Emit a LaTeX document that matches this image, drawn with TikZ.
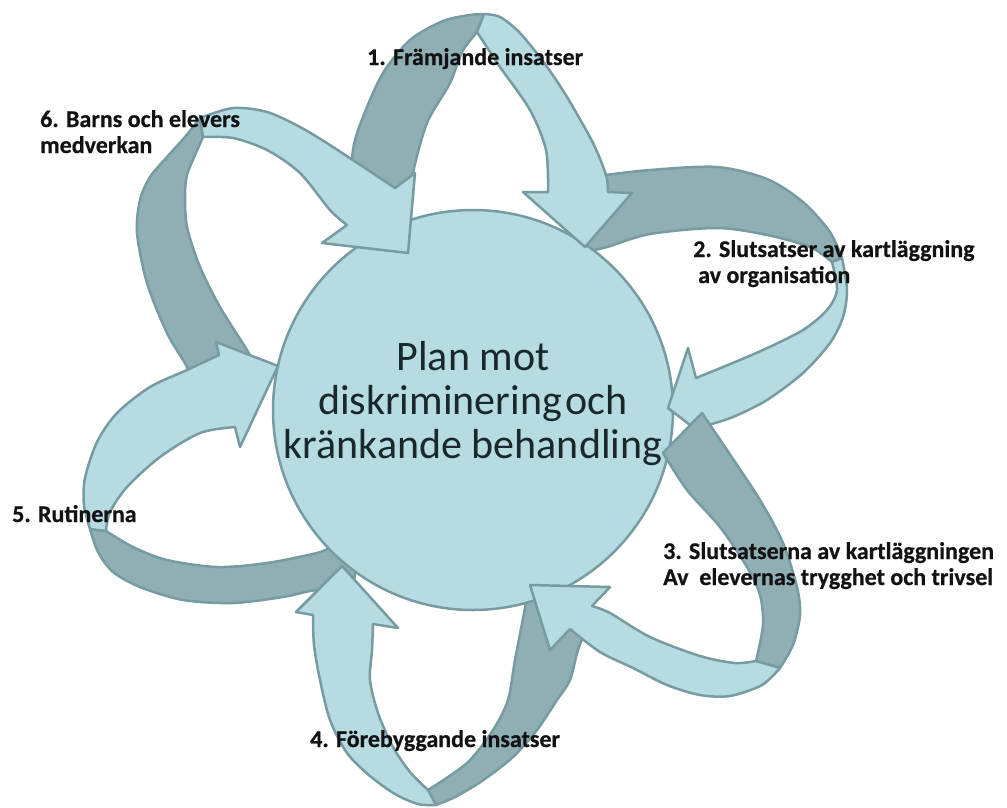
\documentclass[tikz,border=0pt]{standalone}
\usepackage{fontspec}
\setmainfont{Carlito}
\newfontfamily\labelfont{Carlito}[BoldFeatures={FakeBold=0.6}]
\definecolor{bandLight}{RGB}{182,220,226}
\definecolor{bandDark}{RGB}{143,175,180}
\definecolor{bandEdge}{RGB}{118,155,161}
\definecolor{hubText}{RGB}{25,40,45}
\definecolor{labelText}{RGB}{18,18,18}

\begin{document}
\begin{tikzpicture}[x=1pt, y=-1pt,
  band/.style={draw=bandEdge, line width=2.5pt, line join=round},
  back/.style={band, fill=bandDark},
  front/.style={band, fill=bandLight},
  hub/.style={circle, draw=bandEdge, line width=2.5pt, fill=bandLight,
              minimum size=400pt, inner sep=0pt},
  hubtext/.style={font=\fontsize{42}{44}\selectfont, text=hubText, align=center},
  steplabel/.style={font=\labelfont\bfseries\fontsize{24}{26}\selectfont, text=labelText,
                    align=left, anchor=base west, inner sep=0pt},
]
\useasboundingbox (0,0) rectangle (1007,807);

% ---- back (dark) faces of the ribbons that pass behind the hub ----
% ribbon 1 (top), left arm
\filldraw[back] plot[smooth] coordinates {(350,205) (353,150) (363,117) (383,73) (410,40) (443,21) (470,15) (484,14)}
  -- plot[smooth] coordinates {(477,32) (462,52) (450,83) (427,123) (413,173) (410,205)} -- cycle;
% ribbon 2 (upper right), upper arm
\filldraw[back] plot[smooth] coordinates {(598,176) (650,170) (717,167) (767,179) (803,202) (830,232) (842,258)}
  -- plot[smooth] coordinates {(832,262) (810,247) (767,235) (717,228) (650,234) (607,247) (585,252)} -- cycle;
% ribbon 4 (bottom), right arm
\filldraw[back] plot[smooth] coordinates {(592,615) (578,650) (570,680) (557,700) (537,730) (513,757) (482,781) (455,797) (436,805)}
  -- plot[smooth] coordinates {(428,790) (467,763) (493,730) (508,700) (515,660) (527,598)} -- cycle;
% ribbon 5 (lower left), lower arm
\filldraw[back] plot[smooth] coordinates {(90,529) (98,552) (113,572) (140,587) (183,600) (233,603) (283,597) (317,590) (352,592)}
  -- plot[smooth] coordinates {(360,545) (333,547) (317,553) (267,563) (217,567) (167,560) (133,547) (106,531)} -- cycle;
% ribbon 6 (upper left), left arm
\filldraw[back] plot[smooth] coordinates {(190,382) (187,367) (167,333) (147,283) (137,233) (140,200) (150,177) (167,157) (185,137) (200,118)}
  -- plot[smooth] coordinates {(203,137) (195,155) (187,175) (185,195) (187,227) (200,267) (220,307) (247,350) (255,365)} -- cycle;

% ---- hub ----
\node[hub] (plan) at (473,410) {};

% ---- front (light) faces with arrow heads ----
% ribbon 1
\filldraw[front] plot[smooth] coordinates {(484,14) (500,17) (520,33) (545,64) (567,97) (593,143) (606,175) (608,192)}
  -- (632,193) -- (585,247) -- (523,192)
  -- plot[smooth] coordinates {(548,192) (546,150) (530,110) (500,67) (477,32)} -- cycle;
% ribbon 2
\filldraw[front] plot[smooth] coordinates {(842,258) (847,290) (843,317) (830,343) (803,373) (767,400) (733,417) (708,425)}
  -- (712,442) -- (668,408) -- (688,348)
  -- plot[smooth] coordinates {(696,378) (723,367) (763,350) (803,330) (827,310) (837,290) (832,262)} -- cycle;
% ribbon 3: its back face lies over the head of ribbon 2
\filldraw[back] plot[smooth] coordinates {(702,413) (727,450) (760,500) (783,543) (797,587) (800,615) (793,645) (780,668)}
  -- plot[smooth] coordinates {(756,661) (763,625) (760,595) (747,567) (720,527) (687,490) (663,453)} -- cycle;
\filldraw[front] plot[smooth] coordinates {(780,668) (762,685) (730,696) (700,695) (667,685) (633,668) (600,652) (570,629)}
  -- (550,650) -- (530,585) -- (610,587)
  -- plot[smooth] coordinates {(592,606) (610,613) (650,637) (700,656) (735,663) (756,661)} -- cycle;
% ribbon 4
\filldraw[front] plot[smooth] coordinates {(436,805) (418,804) (395,794) (370,776) (347,753) (330,720) (320,680) (314,645) (313,615)}
  -- (296,612) -- (342,566) -- (398,628)
  -- plot[smooth] coordinates {(373,624) (372,650) (370,680) (378,713) (393,747) (410,772) (428,790)} -- cycle;
% ribbon 5
\filldraw[front] plot[smooth] coordinates {(90,529) (84,505) (85,478) (97,442) (117,413) (150,387) (187,370) (219,355)}
  -- (216,342) -- (278,366) -- (240,447)
  -- plot[smooth] coordinates {(235,427) (200,433) (160,457) (127,487) (110,512) (106,531)} -- cycle;
% ribbon 6
\filldraw[front] plot[smooth] coordinates {(200,118) (233,108) (267,112) (300,127) (333,147) (395,188)}
  -- (415,173) -- (408,253) -- (322,243)
  -- plot[smooth] coordinates {(347,225) (330,210) (300,173) (267,150) (233,138) (203,137)} -- cycle;

% ---- texts ----
\node[hubtext] (plantext) at (473,404) {Plan mot\\diskriminering\hspace{4pt}och\\kränkande behandling};

\node[steplabel] (l1) at (367,65) {1. Främjande insatser};
\node[steplabel] (l2) at (693,283) {2. Slutsatser av kartläggning\\\hspace{5pt}av organisation};
\node[steplabel] (l3) at (663,585) {3. Slutsatserna av kartläggningen\\Av~~elevernas trygghet och trivsel};
\node[steplabel] (l4) at (310,747) {4. Förebyggande insatser};
\node[steplabel] (l5) at (12,522) {5. Rutinerna};
\node[steplabel] (l6) at (40,153) {6. Barns och elevers\\medverkan};
\end{tikzpicture}
\end{document}
